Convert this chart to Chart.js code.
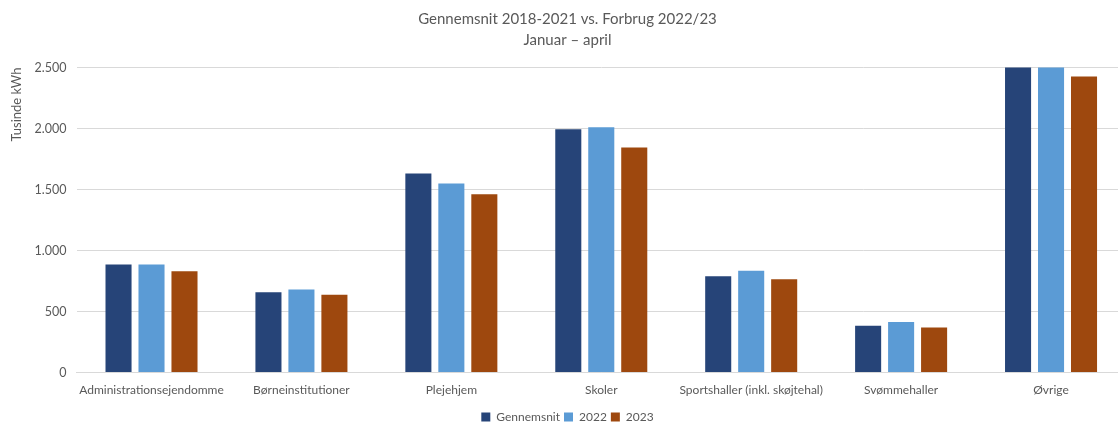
<!DOCTYPE html>
<html>
<head>
<meta charset="utf-8">
<script src="https://cdn.jsdelivr.net/npm/chart.js@4"></script>
<style>
  body { margin: 0; background: #fff; overflow: hidden; }
  #wrap { width: 1126px; height: 423px; }
</style>
</head>
<body>
<div id="wrap"><canvas id="my-chart"></canvas></div>
<script>
const categories = ["Administrationsejendomme", "Børneinstitutioner", "Plejehjem", "Skoler",
  "Sportshaller (inkl. skøjtehal)", "Svømmehaller", "Øvrige"];
const gennemsnit = [885, 658, 1632, 1995, 790, 383, 2650];
const forbrug2022 = [885, 680, 1550, 2010, 834, 415, 2680];
const forbrug2023 = [830, 637, 1462, 1844, 765, 369, 2426];
const yTicks = [0, 500, 1000, 1500, 2000, 2500];

const textColor = "#595959";
const fontFamily = "Lato, 'Open Sans', sans-serif";

function fmt(v) {
  return String(v).replace(/\B(?=(\d{3})+(?!\d))/g, ".");
}

const ctx = document.getElementById('my-chart').getContext('2d');
const myChart = new Chart(ctx, {
  type: "bar",
  data: {
    labels: categories,
    datasets: [
      { label: "Gennemsnit", data: gennemsnit, backgroundColor: "#264478" },
      { label: "2022", data: forbrug2022, backgroundColor: "#5b9bd5" },
      { label: "2023", data: forbrug2023, backgroundColor: "#9e480e" },
    ],
  },
  options: {
    responsive: true,
    maintainAspectRatio: false,
    animation: false,
    layout: { padding: { top: 4, right: 0, left: 9, bottom: -10 } },
    datasets: { bar: { categoryPercentage: 0.66, barPercentage: 0.79 } },
    plugins: {
      title: {
        display: true,
        text: ["Gennemsnit 2018-2021 vs. Forbrug 2022/23", "Januar – april"],
        color: textColor,
        font: { family: fontFamily, size: 15, weight: "normal", lineHeight: 1.45 },
        padding: { top: 4, bottom: 16 },
      },
      legend: {
        position: "bottom",
        // empty legend title just adds a gap above the legend items
        title: { display: true, text: " ", font: { size: 1, lineHeight: 1 }, padding: { top: 0, bottom: 7 } },
        labels: {
          color: textColor,
          font: { family: fontFamily, size: 12 },
          boxWidth: 9,
          boxHeight: 9,
          padding: 4,
        },
      },
      tooltip: { enabled: false },
    },
    scales: {
      x: {
        grid: { display: false },
        border: { color: "#d9d9d9" },
        ticks: { color: textColor, font: { family: fontFamily, size: 12 }, maxRotation: 0, padding: 2 },
      },
      y: {
        min: 0,
        max: 2500,
        afterBuildTicks: axis => { axis.ticks = yTicks.map(v => ({ value: v })); },
        grid: { color: "#d9d9d9", drawTicks: false },
        border: { display: false },
        title: {
          display: true,
          text: "Tusinde kWh",
          align: "end",
          color: textColor,
          font: { family: fontFamily, size: 13 },
          padding: { top: 0, bottom: 0 },
        },
        ticks: {
          color: textColor,
          font: { family: fontFamily, size: 12.5 },
          padding: 10,
          callback: v => fmt(v),
        },
      },
    },
  },
});
</script>
</body>
</html>
